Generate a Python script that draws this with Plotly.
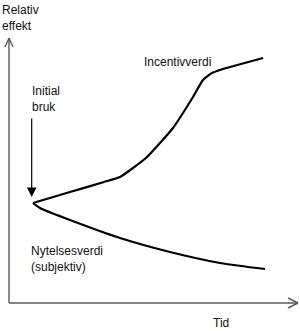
import plotly.graph_objects as go

# Conceptual curves (time on x, relative effect on y)
incentiv_x = [24, 61, 95, 111, 124, 138, 151, 164, 174, 184, 194, 203, 211, 221, 254]
incentiv_y = [100, 111, 121, 126, 135, 146, 160, 175, 190, 206, 223, 230, 233, 236, 245]
nytelse_x = [24, 31, 61, 111, 161, 211, 256]
nytelse_y = [100, 95, 83, 65, 51, 40, 34]

FONT = dict(family="Liberation Sans, Arial, sans-serif", size=12, color="#111")
AX = dict(color="#5a5a5a", width=1.4)

fig = go.Figure()
fig.add_trace(go.Scatter(x=incentiv_x, y=incentiv_y, mode="lines",
                         line=dict(color="black", width=2.2, shape="spline", smoothing=0.5),
                         hoverinfo="skip"))
fig.add_trace(go.Scatter(x=nytelse_x, y=nytelse_y, mode="lines",
                         line=dict(color="black", width=2.2, shape="spline", smoothing=0.8),
                         hoverinfo="skip"))

shapes = [
    dict(type="line", x0=0, y0=0, x1=0, y1=264, line=AX),
    dict(type="line", x0=-4, y0=256, x1=0, y1=265, line=AX),
    dict(type="line", x0=4, y0=256, x1=0, y1=265, line=AX),
    dict(type="line", x0=0, y0=0, x1=289, y1=0, line=AX),
    dict(type="line", x0=279, y0=5, x1=289, y1=0, line=AX),
    dict(type="line", x0=279, y0=-5, x1=289, y1=0, line=AX),
]

annotations = [
    dict(x=-9, y=302, text="Relativ<br>effekt", xanchor="left", yanchor="top",
         showarrow=False, align="left", font=FONT),
    dict(x=21, y=221, text="Initial<br>bruk", xanchor="left", yanchor="top",
         showarrow=False, align="left", font=FONT),
    dict(x=133, y=241, text="Incentivverdi", xanchor="left", yanchor="middle",
         showarrow=False, font=FONT),
    dict(x=20, y=61, text="Nytelsesverdi<br>(subjektiv)", xanchor="left", yanchor="top",
         showarrow=False, align="left", font=FONT),
    dict(x=212, y=-20, text="Tid", xanchor="center", yanchor="middle",
         showarrow=False, font=FONT),
    dict(x=22.7, y=106, ax=22.7, ay=186, axref="x", ayref="y", xref="x", yref="y",
         text="", showarrow=True, arrowhead=2, arrowsize=1.6, arrowwidth=1.2,
         arrowcolor="black"),
]

fig.update_layout(
    width=300, height=331,
    margin=dict(l=0, r=0, t=0, b=0),
    paper_bgcolor="white", plot_bgcolor="white",
    showlegend=False,
    xaxis=dict(range=[-9, 291], visible=False, fixedrange=True),
    yaxis=dict(range=[-28, 303], visible=False, fixedrange=True),
    shapes=shapes,
    annotations=annotations,
)

fig.write_html("out.html")
